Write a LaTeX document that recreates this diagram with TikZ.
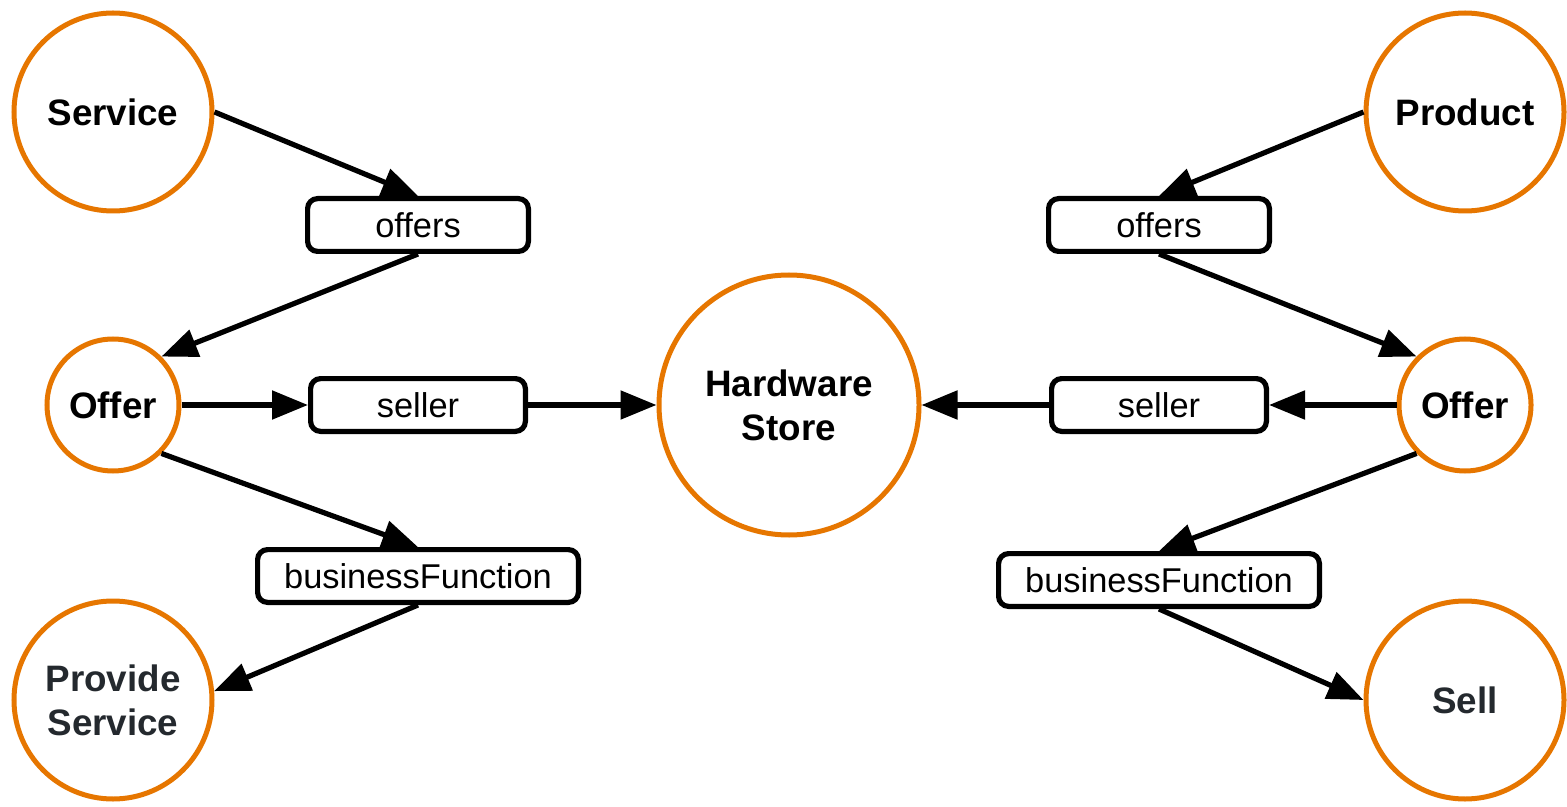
\documentclass[tikz,border=0pt]{standalone}
\usepackage{fontspec}
\setmainfont{Liberation Sans}
\usetikzlibrary{arrows.meta}
\definecolor{ringorange}{RGB}{230,118,0}
\definecolor{darktext}{RGB}{36,41,46}
\tikzset{
  concept/.style={circle, draw=ringorange, line width=2.5pt, inner sep=0pt,
    align=center, font=\fontsize{18.4}{22}\selectfont\bfseries},
  relbox/.style={rectangle, draw=black, line width=2.6pt, rounded corners=5pt,
    minimum height=26.4pt, inner sep=0pt, font=\fontsize{17.2}{20}\selectfont},
  link/.style={line width=2.6pt, -{Triangle[length=18pt,width=14pt]}}
}
\begin{document}
\begin{tikzpicture}[x=0.5pt,y=-0.5pt]
  \useasboundingbox (0,0) rectangle (1567,807);

  % concepts
  \node[concept, minimum size=99pt] (svc) at (113,112) {Service};
  \node[concept, minimum size=99pt] (prod) at (1465,112) {Product};
  \node[concept, minimum size=66pt] (offL) at (113,405) {Offer};
  \node[concept, minimum size=66pt] (offR) at (1465,405) {Offer};
  \node[concept, minimum size=130pt] (hw) at (789,405) {Hardware\\Store};
  \node[concept, minimum size=99pt, text=darktext] (prov) at (113,700) {Provide\\Service};
  \node[concept, minimum size=99pt, text=darktext] (sell) at (1465,700) {Sell};

  % relations
  \node[relbox, minimum width=110.4pt] (offersL) at (418,225) {offers};
  \node[relbox, minimum width=110.4pt] (offersR) at (1159,225) {offers};
  \node[relbox, minimum width=107.4pt] (sellerL) at (418,405) {seller};
  \node[relbox, minimum width=107.4pt] (sellerR) at (1159,405) {seller};
  \node[relbox, minimum width=160.4pt] (bfL) at (418,576) {businessFunction};
  \node[relbox, minimum width=160.4pt] (bfR) at (1159,580) {businessFunction};

  % left side
  \draw[link] (svc.east) -- (offersL.north);
  \draw[link] (offersL.south) -- (offL.north east);
  \draw[link] (offL.east) -- (sellerL.west);
  \draw[link] (sellerL.east) -- (hw.west);
  \draw[link] (offL.south east) -- (bfL.north);
  \draw[link] (bfL.south) -- (prov.5);

  % right side
  \draw[link] (prod.west) -- (offersR.north);
  \draw[link] (offersR.south) -- (offR.north west);
  \draw[link] (offR.west) -- (sellerR.east);
  \draw[link] (sellerR.west) -- (hw.east);
  \draw[link] (offR.south west) -- (bfR.north);
  \draw[link] (bfR.south) -- (sell.west);
\end{tikzpicture}
\end{document}
